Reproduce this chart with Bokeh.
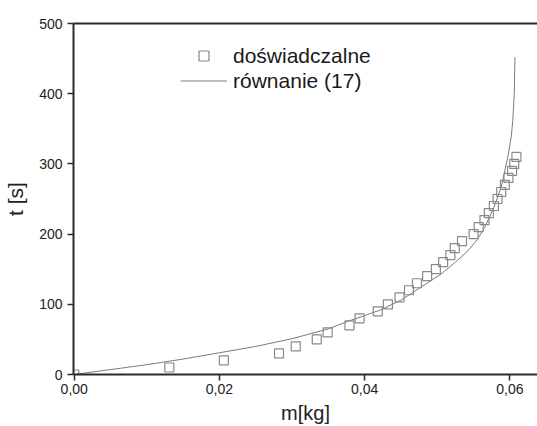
from bokeh.plotting import figure
from bokeh.models import (LinearAxis, FixedTicker, CustomJSTickFormatter, Legend,
                          LegendItem, Range1d)
from bokeh.embed import file_html
from bokeh.resources import INLINE

# experimental points
m_exp = [0.0, 0.0131, 0.0206, 0.0282, 0.0305, 0.0334, 0.0349, 0.0379, 0.0393, 0.0418,
         0.0432, 0.0448, 0.0461, 0.0472, 0.0486, 0.0498, 0.0508, 0.0518, 0.0524, 0.0534,
         0.0550, 0.0557, 0.0565, 0.0571, 0.0578, 0.0583, 0.0588, 0.0593, 0.0598, 0.0603,
         0.0606, 0.0609]
t_exp = [0, 10, 20, 30, 40, 50, 60, 70, 80, 90,
         100, 110, 120, 130, 140, 150, 160, 170, 180, 190,
         200, 210, 220, 230, 240, 250, 260, 270, 280, 290,
         300, 310]

# curve "równanie (17)"
m_eq = [0.0, 0.005, 0.010, 0.015, 0.020, 0.025, 0.030, 0.035, 0.0375, 0.040,
        0.0422, 0.045, 0.0468, 0.0505, 0.0525, 0.0542, 0.0555, 0.0565, 0.0578, 0.0588,
        0.0597, 0.0602, 0.0604, 0.0606, 0.0607]
t_eq = [0, 7, 14, 22, 31, 40, 51, 65, 75, 84,
        92, 106, 118, 143, 160, 176, 192, 209, 238, 267,
        309, 340, 362, 400, 452]

x_ticks = [0.0, 0.02, 0.04, 0.06]
y_ticks = [0, 100, 200, 300, 400, 500]

FONT = "Liberation Sans"
AX = "#2b2b2b"

p = figure(width=537, height=426, output_backend="svg", toolbar_location=None,
           x_range=Range1d(-0.0001, 0.0638), y_range=Range1d(0, 500),
           min_border_top=23, min_border_left=73, min_border_right=0,
           min_border_bottom=52, background_fill_color="white",
           outline_line_color=None)
p.grid.visible = False

xa = p.xaxis[0]
xa.ticker = FixedTicker(ticks=x_ticks)
xa.formatter = CustomJSTickFormatter(code="return tick.toFixed(2).replace('.', ',')")
ya = p.yaxis[0]
ya.ticker = FixedTicker(ticks=y_ticks)

for ax in (xa, ya):
    ax.axis_line_color = AX
    ax.axis_line_width = 2
    ax.major_tick_line_color = AX
    ax.major_tick_line_width = 1.5
    ax.major_tick_in = 0
    ax.major_tick_out = 6
    ax.minor_tick_line_color = None
    ax.major_label_text_font = FONT
    ax.major_label_text_font_size = "14px"
    ax.major_label_text_color = "#222222"
    ax.axis_label_text_font = FONT
    ax.axis_label_text_font_style = "normal"
    ax.axis_label_text_color = "#222222"

xa.axis_label = "m[kg]"
xa.axis_label_text_font_size = "20px"
xa.major_label_standoff = 3
xa.axis_label_standoff = 5
ya.axis_label = "t [s]"
ya.axis_label_text_font_size = "21px"
ya.major_label_standoff = 5
ya.axis_label_standoff = 9

top = LinearAxis(ticker=FixedTicker(ticks=[]), axis_line_color=AX, axis_line_width=2,
                 major_tick_line_color=None, minor_tick_line_color=None,
                 major_label_text_font_size="0px")
p.add_layout(top, "above")

r_line = p.line(m_eq, t_eq, line_color="#7a7a7a", line_width=1)
r_sq = p.scatter(m_exp, t_exp, marker="square", size=9, fill_color=None,
                 line_color="#8a8a8a", line_width=1.2)

legend = Legend(items=[LegendItem(label="doświadczalne", renderers=[r_sq]),
                       LegendItem(label="równanie (17)", renderers=[r_line])],
                location=(107, 281), glyph_width=47, glyph_height=25, label_height=25,
                label_standoff=6, spacing=0, padding=0, margin=0,
                border_line_color=None, background_fill_alpha=0,
                label_text_font=FONT, label_text_font_size="21px",
                label_text_color="#1a1a1a")
p.add_layout(legend)

open("out.html", "w").write(file_html(p, INLINE))
